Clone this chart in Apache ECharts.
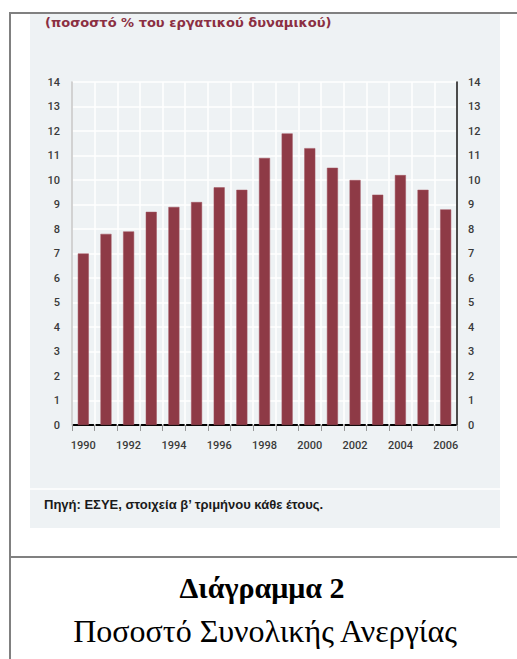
<!DOCTYPE html>
<html>
<head>
<meta charset="utf-8">
<style>
  html, body { margin: 0; padding: 0; background: #ffffff; }
  #chart { width: 517px; height: 659px; }
</style>
<script src="https://cdn.jsdelivr.net/npm/echarts@6/dist/echarts.min.js"></script>
</head>
<body>
<div id="chart"></div>
<script>
// Unemployment rate, % of labour force (Q2 of each year)
const years = ['1990', '1991', '1992', '1993', '1994', '1995', '1996', '1997', '1998',
               '1999', '2000', '2001', '2002', '2003', '2004', '2005', '2006'];
const unemploymentRate = [7.0, 7.8, 7.9, 8.7, 8.9, 9.1, 9.7, 9.6, 10.9,
                          11.9, 11.3, 10.5, 10.0, 9.4, 10.2, 9.6, 8.8];
const yTicks = [0, 14, 1]; // min, max, step

const subtitleText = '(ποσοστό % του εργατικού δυναμικού)';
const sourceText = 'Πηγή: ΕΣΥΕ, στοιχεία β\u2019 τριμήνου κάθε έτους.';
const captionTitle = 'Διάγραμμα 2';
const captionText = 'Ποσοστό Συνολικής Ανεργίας';

const W = 517, H = 659;
const panelColor = '#eef2f4';
const barColor = '#8e3a46';
const labelFont = 'Roboto, "Liberation Sans", sans-serif';
const gridLeft = 72, gridRight = 60, gridTop = 82, gridBottom = 234;
const catWidth = (W - gridLeft - gridRight) / years.length;

const chart = echarts.init(document.getElementById('chart'), null, { renderer: 'svg', width: W, height: H });

const axisLabelStyle = {
  color: '#3a3a3a',
  fontFamily: labelFont,
  fontSize: 11,
  fontWeight: 500
};

chart.setOption({
  animation: false,
  backgroundColor: '#ffffff',
  graphic: [
    // light panel behind the chart and source note
    { type: 'rect', z: -10, shape: { x: 30, y: 13, width: 470, height: 515 }, style: { fill: panelColor } },
    { type: 'line', z: -9, shape: { x1: 30, y1: 489, x2: 500, y2: 489 }, style: { stroke: '#ffffff', lineWidth: 1.5 } },
    // outer frame
    { type: 'line', shape: { x1: 10, y1: 13, x2: W, y2: 13 }, style: { stroke: '#808080', lineWidth: 2 } },
    { type: 'line', shape: { x1: 10, y1: 12, x2: 10, y2: H }, style: { stroke: '#808080', lineWidth: 2 } },
    { type: 'line', shape: { x1: 10, y1: 557, x2: W, y2: 557 }, style: { stroke: '#808080', lineWidth: 2 } },
    // texts
    { type: 'text', left: 45, top: 16, style: { text: subtitleText, fill: '#8b2f42', font: 'bold 13px "DejaVu Sans", sans-serif' } },
    { type: 'text', x: 44, y: 504, style: { text: sourceText, fill: '#1a1a1a', verticalAlign: 'middle', font: 'bold 13px "Liberation Sans", Arial, sans-serif' } },
    { type: 'text', x: 262, y: 587, style: { text: captionTitle, fill: '#000', align: 'center', verticalAlign: 'middle', font: 'bold 30px "Liberation Serif", "Times New Roman", serif' } },
    { type: 'text', x: 265, y: 631, style: { text: captionText, fill: '#000', align: 'center', verticalAlign: 'middle', font: '32px "Liberation Serif", "Times New Roman", serif' } }
  ],
  grid: { left: gridLeft, right: gridRight, top: gridTop, bottom: gridBottom, containLabel: false },
  xAxis: {
    type: 'category',
    data: years,
    boundaryGap: true,
    axisLine: {
      show: true,
      lineStyle: { color: '#000', width: 2, type: [catWidth - 3, 3], dashOffset: catWidth - 1.5 }
    },
    axisTick: { show: true, alignWithLabel: false, interval: 0, length: 6, lineStyle: { color: '#999', width: 1 } },
    axisLabel: { interval: 1, margin: 15, ...axisLabelStyle },
    splitLine: { show: true, interval: 0, lineStyle: { color: '#ffffff', width: 1.5 } }
  },
  yAxis: [
    {
      type: 'value', position: 'left', min: yTicks[0], max: yTicks[1], interval: yTicks[2],
      axisLine: { show: true, lineStyle: { color: '#c4c4c4', width: 1.5 } },
      axisTick: { show: false },
      axisLabel: { margin: 12, ...axisLabelStyle },
      splitLine: { show: true, lineStyle: { color: '#ffffff', width: 1.5 } }
    },
    {
      type: 'value', position: 'right', min: yTicks[0], max: yTicks[1], interval: yTicks[2],
      axisLine: { show: true, lineStyle: { color: '#111', width: 1.5 } },
      axisTick: { show: false },
      axisLabel: { margin: 11, ...axisLabelStyle },
      splitLine: { show: false }
    }
  ],
  series: [{
    type: 'bar',
    data: unemploymentRate,
    barWidth: 11,
    itemStyle: { color: barColor, borderColor: '#a0525e', borderWidth: 0.5 }
  }]
});
</script>
</body>
</html>
